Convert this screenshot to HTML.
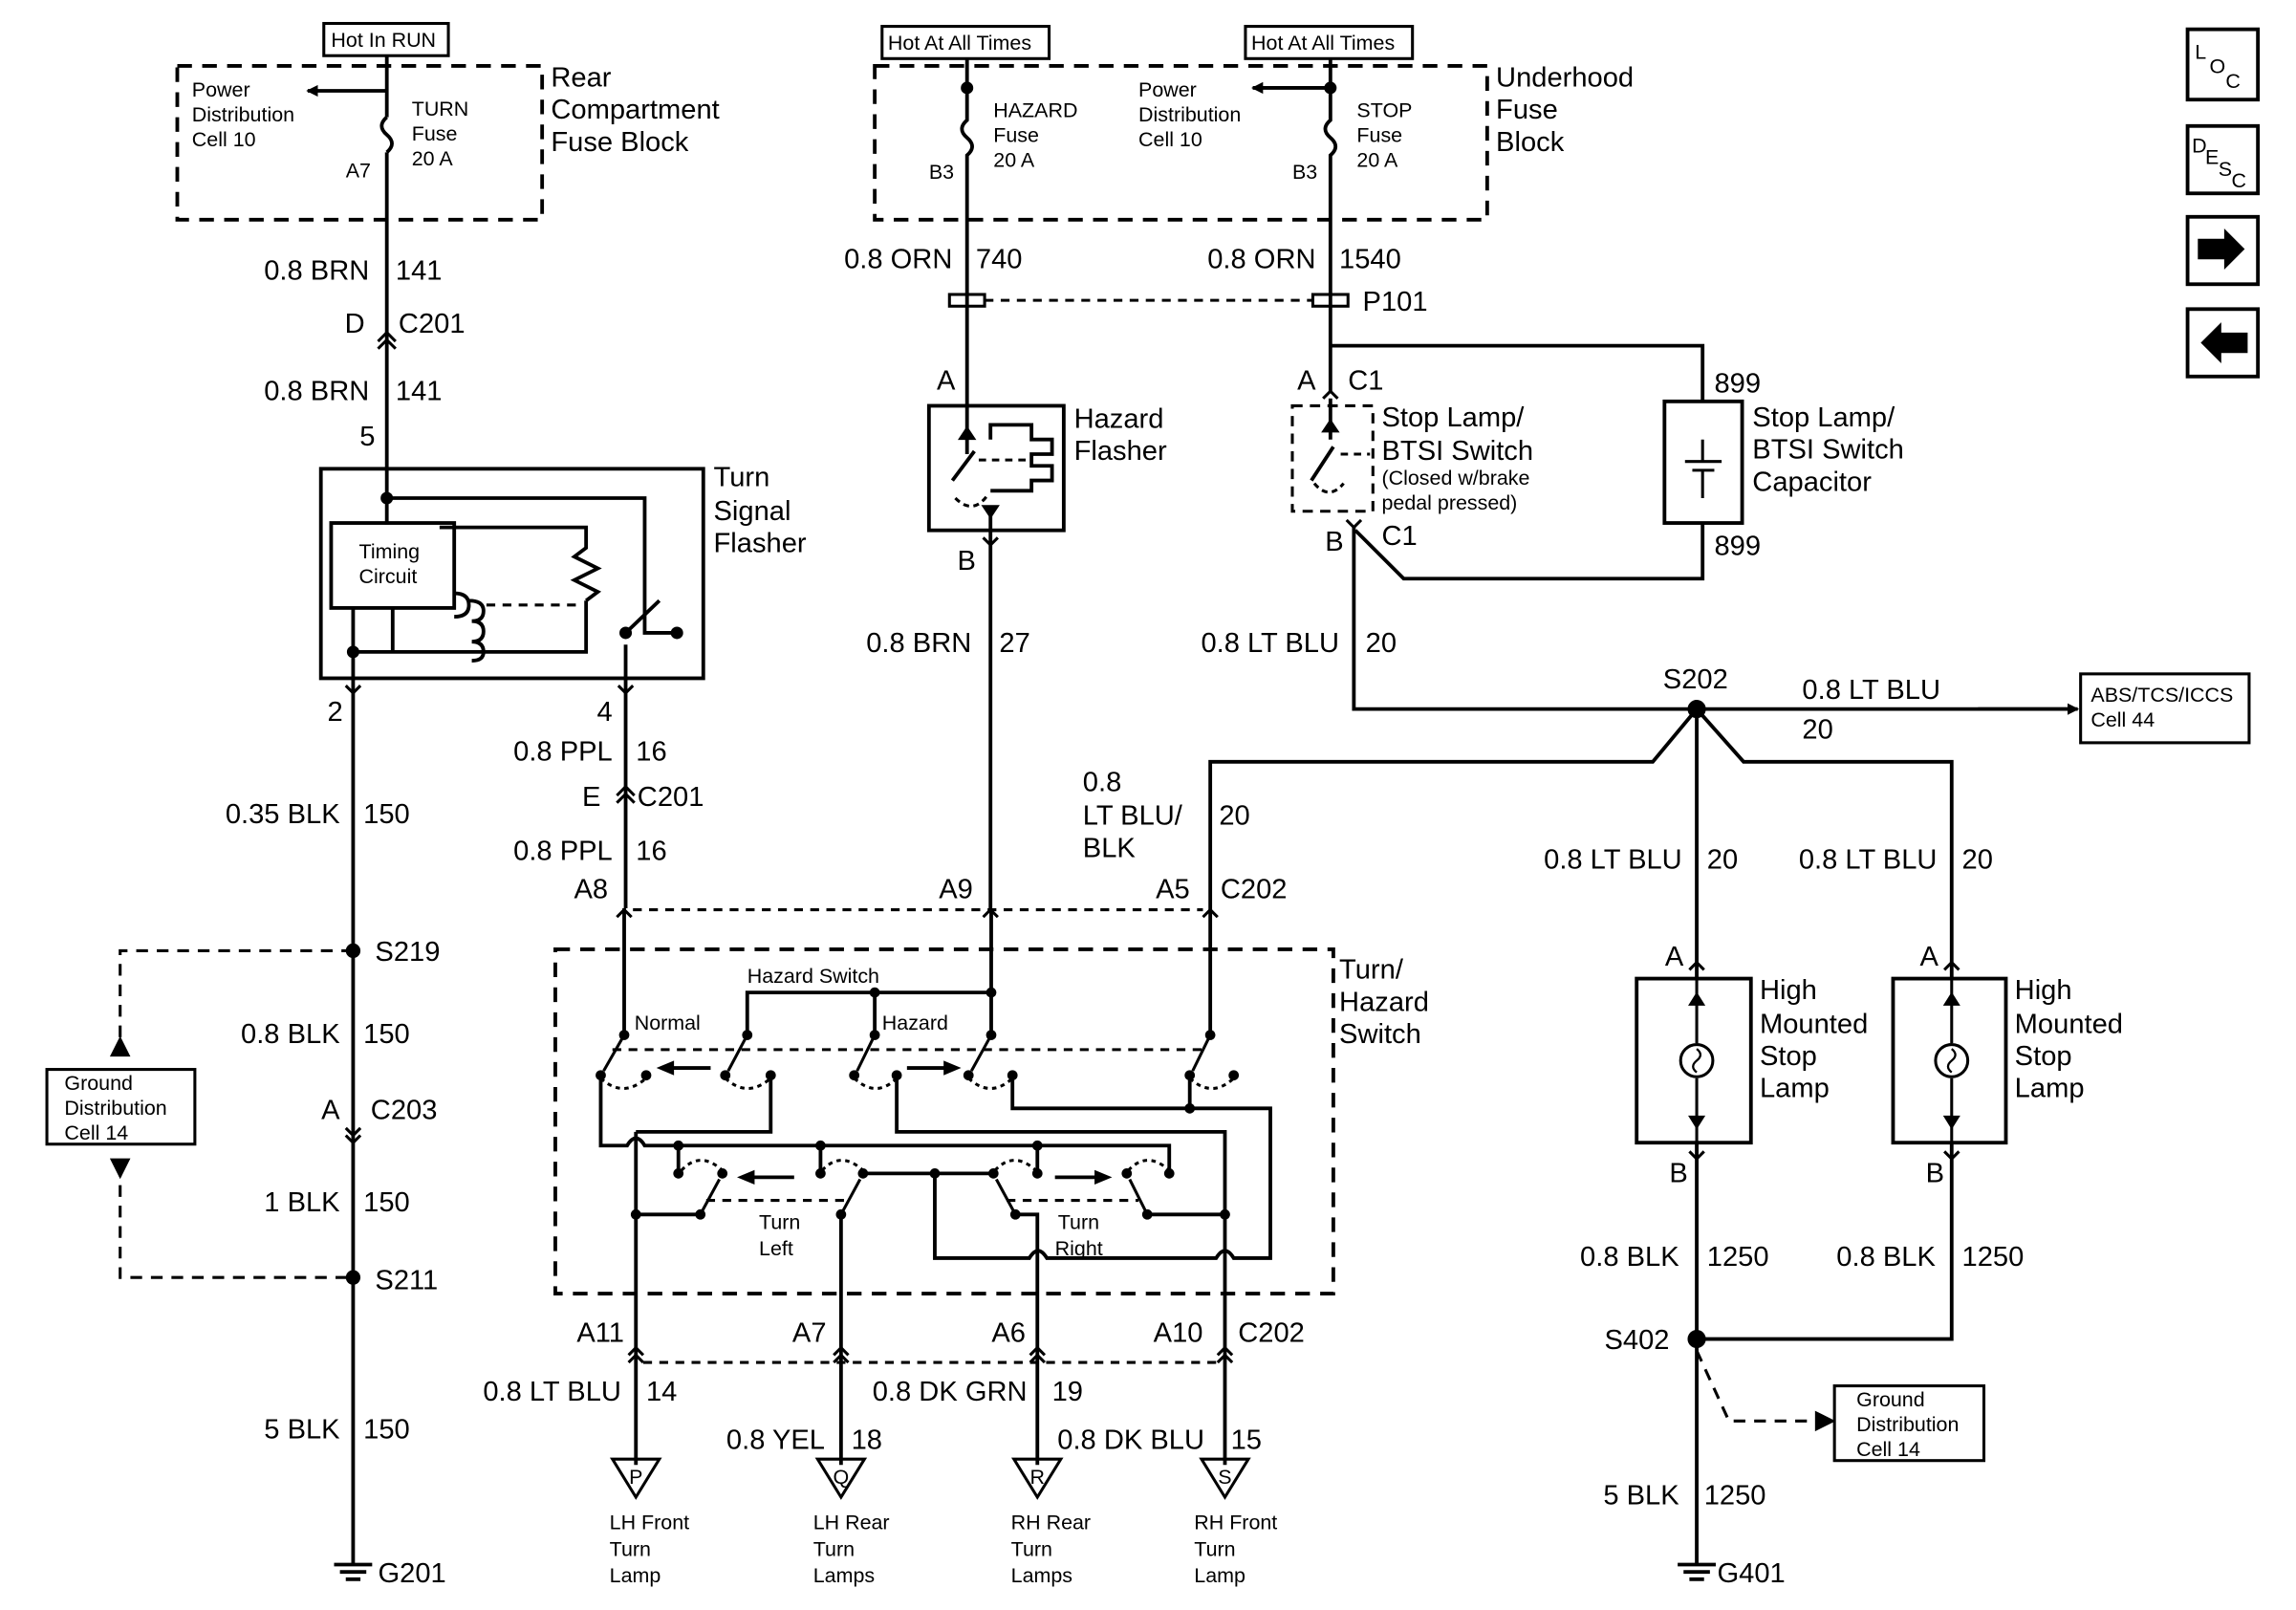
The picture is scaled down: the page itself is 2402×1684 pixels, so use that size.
<!DOCTYPE html>
<html><head><meta charset="utf-8"><style>
html,body{margin:0;padding:0;background:#fff;}
svg{display:block;}
text{font-family:"Liberation Sans",sans-serif;fill:#000;}
.l{font-size:19px;}
.s{font-size:14px;}
</style></head><body>
<svg width="2402" height="1684" viewBox="0 0 1567 1099" preserveAspectRatio="none" xmlns="http://www.w3.org/2000/svg">
<defs>
<marker id="ar" markerWidth="8" markerHeight="8" refX="7" refY="4" orient="auto" markerUnits="userSpaceOnUse"><path d="M0,0 L8,4 L0,8 z"/></marker>
</defs>
<g stroke="#000" stroke-width="2.5" fill="none">
<rect x="221" y="16" width="85" height="22" stroke-width="2"/>
<rect x="121" y="45" width="249" height="105" stroke-dasharray="10,7"/>
<line x1="264" y1="38" x2="264" y2="80"/>
<path d="M264,80 q-7,6 0,12 q7,6 0,12"/>
<line x1="264" y1="104" x2="264" y2="320"/>
<line x1="264" y1="62" x2="210" y2="62" marker-end="url(#ar)"/>
<path d="M258,238 l6,-6 l6,6 M258,233 l6,-6 l6,6" stroke-width="2"/>
<rect x="219" y="320" width="261" height="143"/>
<rect x="226" y="357" width="84" height="58"/>
<path d="M264,340 L440,340 L440,432 L462,432 M264,320 L264,358 M241,415 L241,463 M427,440 L427,463 M241,445 L400,445 L400,410"/>
<path d="M400,410 l8,-6 l-16,-8 l16,-8 l-16,-8 l8,-6 L400,360 L300,360"/>
<path d="M268,445 L268,415"/>
<path d="M310,405 q10,0 10,8 q0,8 -10,8 M320,410 q10,0 10,7 q0,7 -8,7 q8,0 8,7 q0,7 -8,7 q8,0 8,7 q0,6 -8,6"/>
<path d="M332,413 L395,413" stroke-dasharray="6,5" stroke-width="2"/>
<path d="M427,432 L450,410"/>
<circle cx="264" cy="340" r="3" fill="#000"/><circle cx="241" cy="445" r="3" fill="#000"/><circle cx="427" cy="432" r="3" fill="#000"/><circle cx="462" cy="432" r="3" fill="#000"/>
<path d="M236,468 l5,5 l5,-5 M422,468 l5,5 l5,-5" stroke-width="2"/>
<line x1="241" y1="463" x2="241" y2="1068"/>
<line x1="427" y1="463" x2="427" y2="620"/>
<path d="M421,548 l6,-6 l6,6 M421,543 l6,-6 l6,6" stroke-width="2"/>
<path d="M236,775 l5,5 l5,-5 M236,770 l5,5 l5,-5" stroke-width="2"/>
<path d="M228,1068 L254,1068 M232,1073 L250,1073 M236,1078 L246,1078"/>
<rect x="32" y="730" width="101" height="51" stroke-width="2"/>
<path d="M241,649 L82,649 L82,718 M82,795 L82,872 L241,872" stroke-dasharray="8,6" stroke-width="2"/>
<path d="M77,720 l5,-10 l5,10z M77,792 l5,10 l5,-10z" fill="#000"/>
<rect x="602" y="18" width="114" height="22" stroke-width="2"/>
<rect x="850" y="18" width="114" height="22" stroke-width="2"/>
<rect x="597" y="45" width="418" height="105" stroke-dasharray="10,7"/>
<path d="M660,40 L660,82 q-7,6 0,12 q7,6 0,12 L660,277 M908,40 L908,82 q-7,6 0,12 q7,6 0,12 L908,268"/>
<line x1="908" y1="60" x2="855" y2="60" marker-end="url(#ar)"/>
<circle cx="660" cy="60" r="3" fill="#000"/><circle cx="908" cy="60" r="3" fill="#000"/>
<rect x="648" y="201" width="24" height="8" stroke-width="2"/>
<rect x="896" y="201" width="24" height="8" stroke-width="2"/>
<line x1="672" y1="205" x2="896" y2="205" stroke-dasharray="6,5" stroke-width="2"/>
<rect x="634" y="277" width="92" height="85"/>
<path d="M660,277 L660,300 M676,362 L676,345 M660,300 L660,310 M676,300 L676,290 L704,290 L704,300 L718,300 L718,310 L704,310 L704,318 L718,318 L718,328 L704,328 L704,335 L676,335 M650,328 L665,308"/>
<path d="M660,293 l-4,6 h8z M676,352 l-4,-6 h8z" fill="#000"/>
<path d="M652,340 q12,12 22,-2" stroke-dasharray="4,3" stroke-width="2"/>
<path d="M668,314 L700,314" stroke-dasharray="5,4" stroke-width="2"/>
<path d="M671,367 l5,5 l5,-5" stroke-width="2"/>
<line x1="676" y1="362" x2="676" y2="620"/>
<path d="M903,272 l5,-5 l5,5" stroke-width="2"/>
<rect x="882" y="277" width="55" height="72" stroke-dasharray="7,5" stroke-width="2"/>
<path d="M908,272 L908,300 M895,328 L910,305 M908,236 L1162,236 L1162,274 M1162,357 L1162,395 L958,395 L925,362"/>
<path d="M908,288 l-4,6 h8z" fill="#000"/>
<path d="M897,330 q10,12 20,0" stroke-dasharray="4,3" stroke-width="2"/>
<path d="M915,310 L935,310" stroke-dasharray="5,4" stroke-width="2"/>
<rect x="1136" y="274" width="53" height="83"/>
<path d="M1150,315 L1175,315 M1155,321 L1170,321 M1162,300 L1162,315 M1162,321 L1162,340" stroke-width="2"/>
<path d="M919,355 l5,5 l5,-5" stroke-width="2"/>
<path d="M924,360 L924,484 L1412,484"/>
<line x1="1350" y1="484" x2="1418" y2="484" marker-end="url(#ar)"/>
<circle cx="1158" cy="484" r="5" fill="#000"/>
<rect x="1420" y="460" width="115" height="47" stroke-width="2"/>
<path d="M1158,484 L1128,520 L826,520 L826,620 M1158,484 L1190,520 L1332,520 L1332,668 M1158,484 L1158,668"/>
<path d="M1153,662 l5,-5 l5,5 M1327,662 l5,-5 l5,5" stroke-width="2"/>
<rect x="1117" y="668" width="78" height="112"/>
<rect x="1292" y="668" width="77" height="112"/>
<path d="M1158,668 L1158,712 M1158,736 L1158,780 M1332,668 L1332,712 M1332,736 L1332,780" stroke-width="2"/>
<circle cx="1158" cy="724" r="11" stroke-width="2"/><circle cx="1332" cy="724" r="11" stroke-width="2"/>
<path d="M1158,716 q5,4 0,8 q-5,4 0,8 M1332,716 q5,4 0,8 q-5,4 0,8" stroke-width="1.5"/>
<path d="M1153,686 l5,-8 l5,8z M1153,762 l5,8 l5,-8z M1327,686 l5,-8 l5,8z M1327,762 l5,8 l5,-8z" fill="#000" stroke-width="1"/>
<path d="M1153,786 l5,5 l5,-5 M1327,786 l5,5 l5,-5" stroke-width="2"/>
<path d="M1158,780 L1158,1068 M1332,780 L1332,914 L1158,914"/>
<circle cx="1158" cy="914" r="5" fill="#000"/>
<path d="M1158,922 L1180,970 L1240,970" stroke-dasharray="8,6" stroke-width="2"/>
<path d="M1250,970 l-10,-5 v10z" fill="#000"/>
<rect x="1252" y="946" width="102" height="51" stroke-width="2"/>
<path d="M1145,1068 L1171,1068 M1149,1073 L1167,1073 M1153,1078 L1163,1078"/>
<path d="M421,626 l5,-5 l5,5 M671,626 l5,-5 l5,5 M821,626 l5,-5 l5,5" stroke-width="2"/>
<line x1="432" y1="621" x2="821" y2="621" stroke-dasharray="6,5" stroke-width="2"/>
<rect x="379" y="648" width="531" height="235" stroke-dasharray="10,7"/>
<path d="M426,620 V706.5 M676.5,620 V706.5 M826,620 V706.5 M510,706.5 V677.5 H676.5 M597,677.5 V706.5"/>
<path d="M426,706.5 L412,731 M510,706.5 L497,731 M597,706.5 L585,731 M676.5,706.5 L663,731 M826,706.5 L814,731" stroke-width="2"/>
<path d="M418,716.5 H824" stroke-dasharray="6,5" stroke-width="2"/>
<path d="M485,729 H458 M619,729 H646"/>
<path d="M410,736 q15,14 31,0 M495,736 q15,14 31,0 M583,736 q15,14 29,0 M661,736 q15,14 30,0 M812,736 q15,14 30,0" stroke-dasharray="3,3" stroke-width="2"/>
<path d="M410,734 V782 H428 q6,-10 12,0 H798 V801"/>
<path d="M526,734 V772.6 H434 M434,772.6 V1000"/>
<path d="M612,734 V772.6 H836 V1000"/>
<path d="M691,734 V756.6 H867 V858.8 H842 q-6,-10 -12,0 H714.5 q-6,-10 -12,0 H638 V801"/>
<path d="M812,734 V756.6"/>
<path d="M463,782 V801 M560,782 V801 M708,782 V801 M589,801 H678"/>
<path d="M478,829 L491,805 M574,829 L587,805 M693,829 L680,805 M783,829 L771,805" stroke-width="2"/>
<path d="M434,829 H478 M574,829 V1000 M693,829 H708 V1000 M783,829 H836"/>
<path d="M482,819.4 H579 M687,819.4 H777" stroke-dasharray="6,5" stroke-width="2"/>
<path d="M542,803.6 H513 M720,803.6 H749"/>
<path d="M465,799 q13,-14 28,0 M561,799 q13,-14 28,0 M679,799 q13,-14 28,0 M770,799 q13,-14 28,0" stroke-dasharray="3,3" stroke-width="2"/>
<path d="M429,925 l5,-5 l5,5 M429,930 l5,-5 l5,5 M569,925 l5,-5 l5,5 M569,930 l5,-5 l5,5 M703,925 l5,-5 l5,5 M703,930 l5,-5 l5,5 M831,925 l5,-5 l5,5 M831,930 l5,-5 l5,5" stroke-width="2"/>
<line x1="439" y1="930" x2="831" y2="930" stroke-dasharray="6,5" stroke-width="2"/>
<path d="M418,996 L450,996 L434,1022z M558,996 L590,996 L574,1022z M692,996 L724,996 L708,1022z M820,996 L852,996 L836,1022z" stroke-width="2"/>
<rect x="1493" y="20" width="48" height="48" stroke-width="2.5"/>
<rect x="1493" y="86" width="48" height="46" stroke-width="2.5"/>
<rect x="1493" y="148" width="48" height="46" stroke-width="2.5"/>
<rect x="1493" y="211" width="48" height="46" stroke-width="2.5"/>
</g>
<g fill="#000">
<circle cx="241" cy="649" r="5"/><circle cx="241" cy="872" r="5"/>
<circle cx="426" cy="706.5" r="3.5"/><circle cx="510" cy="706.5" r="3.5"/><circle cx="597" cy="706.5" r="3.5"/><circle cx="676.5" cy="706.5" r="3.5"/><circle cx="826" cy="706.5" r="3.5"/><circle cx="597" cy="677.5" r="3.5"/><circle cx="676.5" cy="677.5" r="3.5"/>
<circle cx="410" cy="734" r="3.5"/><circle cx="441" cy="734" r="3.5"/><circle cx="495" cy="734" r="3.5"/><circle cx="526" cy="734" r="3.5"/><circle cx="583" cy="734" r="3.5"/><circle cx="612" cy="734" r="3.5"/><circle cx="661" cy="734" r="3.5"/><circle cx="691" cy="734" r="3.5"/><circle cx="812" cy="734" r="3.5"/><circle cx="842" cy="734" r="3.5"/>
<circle cx="812" cy="756.6" r="3.5"/>
<circle cx="463" cy="782" r="3.5"/><circle cx="560" cy="782" r="3.5"/><circle cx="708" cy="782" r="3.5"/>
<circle cx="463" cy="801" r="3.5"/><circle cx="493" cy="801" r="3.5"/><circle cx="560" cy="801" r="3.5"/><circle cx="589" cy="801" r="3.5"/><circle cx="678" cy="801" r="3.5"/><circle cx="708" cy="801" r="3.5"/><circle cx="769" cy="801" r="3.5"/><circle cx="798" cy="801" r="3.5"/><circle cx="638" cy="801" r="3.5"/>
<circle cx="434" cy="829" r="3.5"/><circle cx="478" cy="829" r="3.5"/><circle cx="574" cy="829" r="3.5"/><circle cx="693" cy="829" r="3.5"/><circle cx="783" cy="829" r="3.5"/><circle cx="836" cy="829" r="3.5"/>
<path d="M448,729 l12,-5 v10z M656,729 l-12,-5 v10z M503,803.6 l12,-5 v10z M759,803.6 l-12,-5 v10z"/>
<path d="M1500,163 h18 v-7 l14,14 l-14,14 v-7 h-18z"/>
<path d="M1534,227 h-18 v-7 l-14,14 l14,14 v-7 h18z"/>
</g>
<text class="s" x="226" y="32">Hot In RUN</text>
<text class="s" x="606" y="34">Hot At All Times</text>
<text class="s" x="854" y="34">Hot At All Times</text>
<text class="s" x="131" y="66">Power</text><text class="s" x="131" y="83">Distribution</text><text class="s" x="131" y="100">Cell 10</text>
<text class="s" x="281" y="79">TURN</text><text class="s" x="281" y="96">Fuse</text><text class="s" x="281" y="113">20 A</text>
<text class="s" x="236" y="121">A7</text>
<text class="l" x="376" y="59">Rear</text><text class="l" x="376" y="81">Compartment</text><text class="l" x="376" y="103">Fuse Block</text>
<text class="s" x="678" y="80">HAZARD</text><text class="s" x="678" y="97">Fuse</text><text class="s" x="678" y="114">20 A</text>
<text class="s" x="634" y="122">B3</text><text class="s" x="882" y="122">B3</text>
<text class="s" x="777" y="66">Power</text><text class="s" x="777" y="83">Distribution</text><text class="s" x="777" y="100">Cell 10</text>
<text class="s" x="926" y="80">STOP</text><text class="s" x="926" y="97">Fuse</text><text class="s" x="926" y="114">20 A</text>
<text class="l" x="1021" y="59">Underhood</text><text class="l" x="1021" y="81">Fuse</text><text class="l" x="1021" y="103">Block</text>
<g class="l" text-anchor="end">
<text x="252" y="191">0.8 BRN</text><text x="252" y="273">0.8 BRN</text><text x="249" y="227">D</text><text x="256" y="304">5</text>
<text x="234" y="492">2</text><text x="232" y="562">0.35 BLK</text><text x="232" y="712">0.8 BLK</text><text x="232" y="764">A</text><text x="232" y="827">1 BLK</text><text x="232" y="982">5 BLK</text>
<text x="418" y="492">4</text><text x="418" y="519">0.8 PPL</text><text x="410" y="550">E</text><text x="418" y="587">0.8 PPL</text><text x="415" y="613">A8</text>
<text x="650" y="183">0.8 ORN</text><text x="898" y="183">0.8 ORN</text><text x="652" y="266">A</text><text x="898" y="266">A</text><text x="666" y="389">B</text><text x="917" y="376">B</text>
<text x="663" y="445">0.8 BRN</text><text x="914" y="445">0.8 LT BLU</text><text x="664" y="613">A9</text><text x="812" y="613">A5</text>
<text x="1148" y="593">0.8 LT BLU</text><text x="1322" y="593">0.8 LT BLU</text><text x="1149" y="659">A</text><text x="1323" y="659">A</text>
<text x="1152" y="807">B</text><text x="1327" y="807">B</text><text x="1146" y="864">0.8 BLK</text><text x="1321" y="864">0.8 BLK</text><text x="1146" y="1027">5 BLK</text>
<text x="426" y="916">A11</text><text x="564" y="916">A7</text><text x="700" y="916">A6</text><text x="821" y="916">A10</text>
<text x="424" y="956">0.8 LT BLU</text><text x="563" y="989">0.8 YEL</text><text x="701" y="956">0.8 DK GRN</text><text x="822" y="989">0.8 DK BLU</text>
</g>
<g class="l">
<text x="270" y="191">141</text><text x="272" y="227">C201</text><text x="270" y="273">141</text>
<text x="248" y="562">150</text><text x="256" y="656">S219</text><text x="248" y="712">150</text><text x="253" y="764">C203</text><text x="248" y="827">150</text><text x="256" y="880">S211</text><text x="248" y="982">150</text><text x="258" y="1080">G201</text>
<text x="434" y="519">16</text><text x="435" y="550">C201</text><text x="434" y="587">16</text>
<text x="666" y="183">740</text><text x="914" y="183">1540</text><text x="930" y="212">P101</text><text x="920" y="266">C1</text><text x="943" y="372">C1</text>
<text x="1170" y="268">899</text><text x="1170" y="379">899</text>
<text x="682" y="445">27</text><text x="932" y="445">20</text>
<text x="1135" y="470">S202</text><text x="1230" y="477">0.8 LT BLU</text><text x="1230" y="504">20</text>
<text x="739" y="540">0.8</text><text x="739" y="563">LT BLU/</text><text x="739" y="585">BLK</text><text x="832" y="563">20</text>
<text x="833" y="613">C202</text>
<text x="1165" y="593">20</text><text x="1339" y="593">20</text>
<text x="1165" y="864">1250</text><text x="1339" y="864">1250</text><text x="1095" y="921">S402</text><text x="1163" y="1027">1250</text><text x="1172" y="1080">G401</text>
<text x="845" y="916">C202</text>
<text x="441" y="956">14</text><text x="581" y="989">18</text><text x="718" y="956">19</text><text x="840" y="989">15</text>
<text x="487" y="332">Turn</text><text x="487" y="355">Signal</text><text x="487" y="377">Flasher</text>
<text x="733" y="292">Hazard</text><text x="733" y="314">Flasher</text>
<text x="943" y="291">Stop Lamp/</text><text x="943" y="314">BTSI Switch</text>
<text x="1196" y="291">Stop Lamp/</text><text x="1196" y="313">BTSI Switch</text><text x="1196" y="335">Capacitor</text>
<text x="914" y="668">Turn/</text><text x="914" y="690">Hazard</text><text x="914" y="712">Switch</text>
<text x="1201" y="682">High</text><text x="1201" y="705">Mounted</text><text x="1201" y="727">Stop</text><text x="1201" y="749">Lamp</text>
<text x="1375" y="682">High</text><text x="1375" y="705">Mounted</text><text x="1375" y="727">Stop</text><text x="1375" y="749">Lamp</text>
</g>
<text class="s" x="245" y="381">Timing</text><text class="s" x="245" y="398">Circuit</text>
<text class="s" x="943" y="331">(Closed w/brake</text><text class="s" x="943" y="348">pedal pressed)</text>
<text class="s" x="1427" y="479">ABS/TCS/ICCS</text><text class="s" x="1427" y="496">Cell 44</text>
<text class="s" x="44" y="744">Ground</text><text class="s" x="44" y="761">Distribution</text><text class="s" x="44" y="778">Cell 14</text>
<text class="s" x="1267" y="960">Ground</text><text class="s" x="1267" y="977">Distribution</text><text class="s" x="1267" y="994">Cell 14</text>
<text class="s" x="510" y="671">Hazard Switch</text><text class="s" x="433" y="703">Normal</text><text class="s" x="602" y="703">Hazard</text>
<text class="s" x="518" y="839">Turn</text><text class="s" x="518" y="857">Left</text><text class="s" x="722" y="839">Turn</text><text class="s" x="720" y="857">Right</text>
<g class="s" text-anchor="middle"><text x="434" y="1013">P</text><text x="574" y="1013">Q</text><text x="708" y="1013">R</text><text x="836" y="1013">S</text></g>
<text class="s" x="416" y="1044">LH Front</text><text class="s" x="416" y="1062">Turn</text><text class="s" x="416" y="1080">Lamp</text>
<text class="s" x="555" y="1044">LH Rear</text><text class="s" x="555" y="1062">Turn</text><text class="s" x="555" y="1080">Lamps</text>
<text class="s" x="690" y="1044">RH Rear</text><text class="s" x="690" y="1062">Turn</text><text class="s" x="690" y="1080">Lamps</text>
<text class="s" x="815" y="1044">RH Front</text><text class="s" x="815" y="1062">Turn</text><text class="s" x="815" y="1080">Lamp</text>
<text class="s" x="1498" y="40">L</text><text class="s" x="1508" y="50">O</text><text class="s" x="1519" y="60">C</text>
<text class="s" x="1496" y="104">D</text><text class="s" x="1505" y="112">E</text><text class="s" x="1514" y="120">S</text><text class="s" x="1523" y="128">C</text>
</svg>
</body></html>
